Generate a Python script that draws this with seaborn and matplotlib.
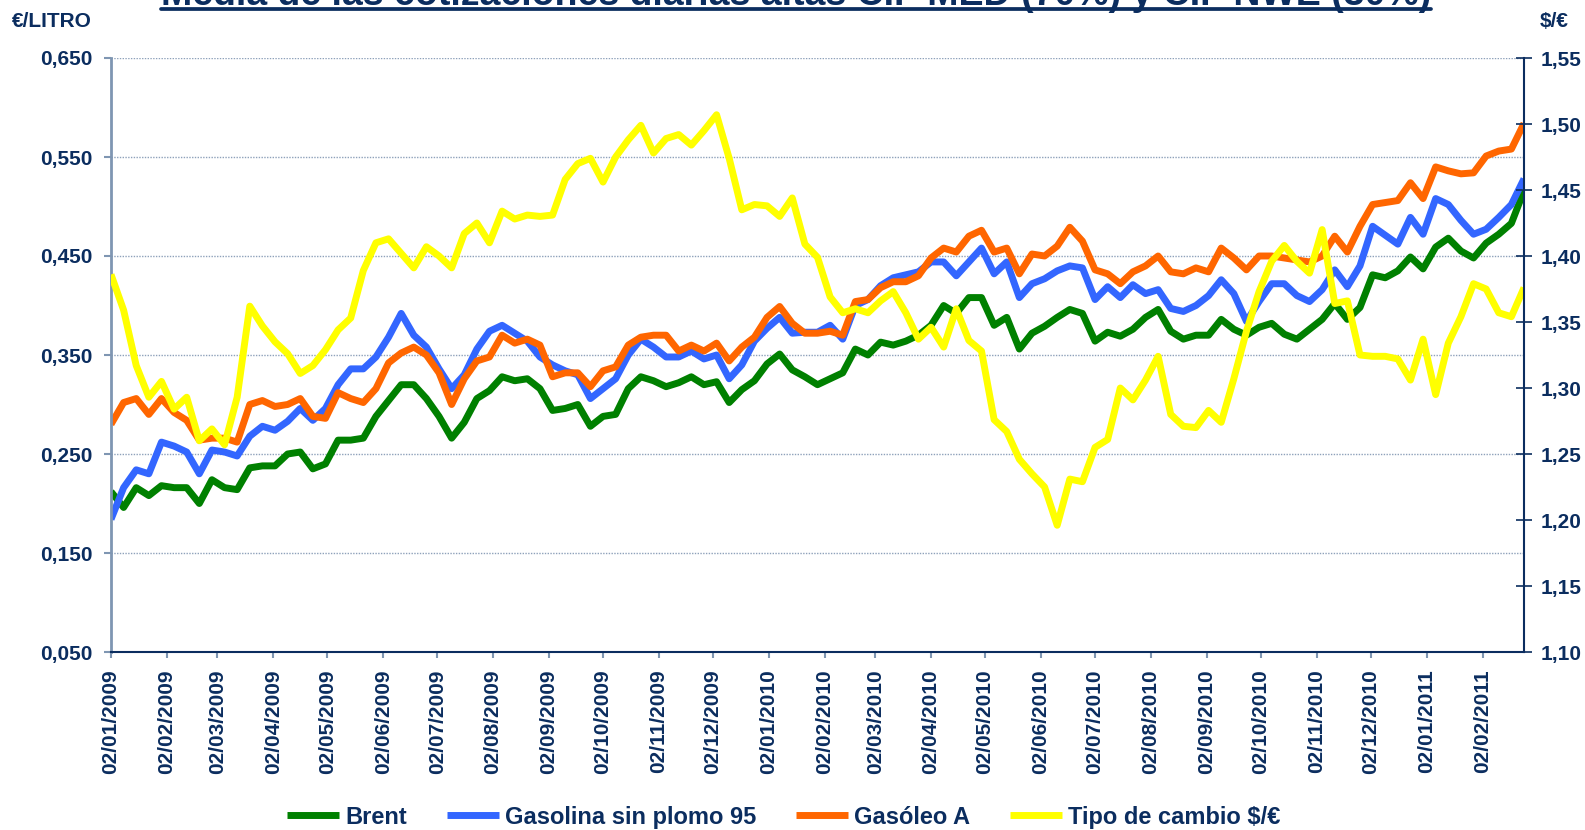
import matplotlib.dates as mdates
import matplotlib.pyplot as plt
import pandas as pd
import seaborn as sns
from matplotlib.lines import Line2D
from matplotlib.ticker import FuncFormatter

# Fechas (una muestra por semana)
fechas = pd.date_range("2009-01-02", periods=113, freq="7D")

# €/litro
brent = [0.212, 0.196, 0.216, 0.208, 0.218, 0.216, 0.216, 0.200, 0.224, 0.216,
         0.214, 0.236, 0.238, 0.238, 0.250, 0.252, 0.235, 0.240, 0.264, 0.264,
         0.266, 0.288, 0.304, 0.320, 0.320, 0.306, 0.288, 0.266, 0.282, 0.306,
         0.314, 0.328, 0.324, 0.326, 0.316, 0.294, 0.296, 0.300, 0.278, 0.288,
         0.290, 0.316, 0.328, 0.324, 0.318, 0.322, 0.328, 0.320, 0.323, 0.302,
         0.315, 0.324, 0.341, 0.351, 0.335, 0.328, 0.320, 0.326, 0.332, 0.356,
         0.350, 0.363, 0.360, 0.364, 0.370, 0.380, 0.400, 0.392, 0.408, 0.408,
         0.380, 0.388, 0.356, 0.372, 0.379, 0.388, 0.396, 0.392, 0.364, 0.373,
         0.369, 0.376, 0.388, 0.396, 0.374, 0.366, 0.370, 0.370, 0.386, 0.376,
         0.370, 0.378, 0.382, 0.371, 0.366, 0.376, 0.386, 0.402, 0.386, 0.398,
         0.431, 0.428, 0.435, 0.449, 0.437, 0.459, 0.468, 0.455, 0.448, 0.463,
         0.472, 0.483, 0.516]
gasolina = [0.184, 0.216, 0.234, 0.230, 0.262, 0.258, 0.252, 0.230, 0.254, 0.252,
            0.248, 0.268, 0.278, 0.274, 0.283, 0.296, 0.284, 0.296, 0.320, 0.336,
            0.336, 0.348, 0.368, 0.392, 0.370, 0.358, 0.336, 0.316, 0.330, 0.356,
            0.374, 0.380, 0.372, 0.364, 0.348, 0.340, 0.334, 0.330, 0.306, 0.316,
            0.326, 0.350, 0.366, 0.358, 0.348, 0.348, 0.354, 0.346, 0.350, 0.326,
            0.340, 0.364, 0.377, 0.388, 0.372, 0.373, 0.373, 0.380, 0.366, 0.400,
            0.406, 0.420, 0.428, 0.431, 0.434, 0.444, 0.444, 0.430, 0.444, 0.458,
            0.432, 0.444, 0.408, 0.422, 0.427, 0.435, 0.440, 0.438, 0.406, 0.419,
            0.408, 0.421, 0.412, 0.416, 0.397, 0.394, 0.400, 0.410, 0.426, 0.412,
            0.384, 0.404, 0.422, 0.422, 0.410, 0.404, 0.416, 0.436, 0.419, 0.440,
            0.480, 0.471, 0.462, 0.489, 0.472, 0.508, 0.502, 0.486, 0.472, 0.477,
            0.489, 0.502, 0.528]
gasoleo = [0.280, 0.302, 0.306, 0.290, 0.306, 0.292, 0.284, 0.264, 0.266, 0.266,
           0.262, 0.300, 0.304, 0.298, 0.300, 0.306, 0.288, 0.286, 0.312, 0.306,
           0.302, 0.316, 0.342, 0.352, 0.358, 0.350, 0.332, 0.300, 0.326, 0.344,
           0.348, 0.370, 0.362, 0.366, 0.360, 0.328, 0.332, 0.332, 0.318, 0.334,
           0.338, 0.360, 0.368, 0.370, 0.370, 0.354, 0.360, 0.354, 0.362, 0.344,
           0.358, 0.368, 0.388, 0.399, 0.382, 0.372, 0.372, 0.374, 0.370, 0.404,
           0.406, 0.418, 0.424, 0.424, 0.430, 0.448, 0.458, 0.454, 0.470, 0.476,
           0.454, 0.458, 0.432, 0.452, 0.450, 0.460, 0.479, 0.465, 0.436, 0.432,
           0.422, 0.434, 0.440, 0.450, 0.434, 0.432, 0.438, 0.434, 0.458, 0.448,
           0.436, 0.450, 0.450, 0.448, 0.446, 0.444, 0.450, 0.470, 0.454, 0.480,
           0.502, 0.504, 0.506, 0.524, 0.508, 0.540, 0.536, 0.533, 0.534, 0.551,
           0.556, 0.558, 0.584]
# $/€
tipo_cambio = [1.386, 1.359, 1.317, 1.293, 1.305, 1.284, 1.293, 1.260, 1.269, 1.257,
               1.293, 1.362, 1.347, 1.335, 1.326, 1.311, 1.317, 1.329, 1.344, 1.353,
               1.389, 1.410, 1.413, 1.402, 1.391, 1.407, 1.400, 1.391, 1.417, 1.425,
               1.410, 1.434, 1.428, 1.431, 1.430, 1.431, 1.458, 1.470, 1.474, 1.456,
               1.475, 1.488, 1.499, 1.478, 1.489, 1.492, 1.484, 1.495, 1.507, 1.474,
               1.435, 1.439, 1.438, 1.430, 1.444, 1.409, 1.399, 1.369, 1.357, 1.360,
               1.357, 1.366, 1.373, 1.357, 1.337, 1.346, 1.331, 1.360, 1.336, 1.328,
               1.276, 1.267, 1.246, 1.235, 1.225, 1.196, 1.231, 1.229, 1.255, 1.261,
               1.300, 1.291, 1.306, 1.324, 1.280, 1.271, 1.270, 1.283, 1.274, 1.307,
               1.343, 1.373, 1.396, 1.408, 1.396, 1.387, 1.420, 1.364, 1.366, 1.325,
               1.324, 1.324, 1.322, 1.306, 1.337, 1.295, 1.334, 1.354, 1.379, 1.375,
               1.357, 1.354, 1.376]

ticks_izq = [0.05, 0.15, 0.25, 0.35, 0.45, 0.55, 0.65]
ticks_der = [1.10, 1.15, 1.20, 1.25, 1.30, 1.35, 1.40, 1.45, 1.50, 1.55]
titulo = "Media de las cotizaciones diarias altas CIF MED (70%) y CIF NWE (30%)"

azul = "#0B2D5F"
gris = "#7F96B2"

sns.set_theme(style="white")
plt.rcParams["font.family"] = ["Liberation Sans", "DejaVu Sans"]
plt.rcParams["font.weight"] = "bold"

W, H = 1585, 830
fig = plt.figure(figsize=(W / 100, H / 100), dpi=100)
ax = fig.add_axes([111 / W, 1 - 652 / H, (1524 - 111) / W, (652 - 58) / H])
ax2 = ax.twinx()

estilo = dict(linewidth=5, solid_joinstyle="round", solid_capstyle="butt")
sns.lineplot(x=fechas, y=brent, ax=ax, color="#008000", label="Brent", **estilo)
sns.lineplot(x=fechas, y=gasolina, ax=ax, color="#3366FF", label="Gasolina sin plomo 95", **estilo)
sns.lineplot(x=fechas, y=gasoleo, ax=ax, color="#FF6600", label="Gasóleo A", **estilo)
sns.lineplot(x=fechas, y=tipo_cambio, ax=ax2, color="#FFFF00", label="Tipo de cambio $/€", **estilo)

for a in (ax, ax2):
    if a.get_legend() is not None:
        a.get_legend().remove()
    a.set_xlabel("")
    a.set_ylabel("")

ax.set_xlim(fechas[0], fechas[-1])
ax.set_ylim(0.05, 0.65)
ax.set_yticks(ticks_izq)
ax.yaxis.set_major_formatter(FuncFormatter(lambda v, p: f"{v:.3f}".replace(".", ",")))
ax2.set_ylim(1.10, 1.55)
ax2.set_yticks(ticks_der)
ax2.yaxis.set_major_formatter(FuncFormatter(lambda v, p: f"{v:.2f}".replace(".", ",")))

ax.xaxis.set_major_locator(mdates.MonthLocator(bymonthday=2))
ax.xaxis.set_major_formatter(mdates.DateFormatter("%d/%m/%Y"))

ax.grid(False)
ax.yaxis.grid(True, linestyle=(0, (1, 1)), color="#8EA1BA", linewidth=1.0)
ax2.grid(False)

for s in ("top", "right"):
    ax.spines[s].set_visible(False)
for s in ("top", "left", "bottom"):
    ax2.spines[s].set_visible(False)
ax.spines["left"].set_color(gris)
ax.spines["left"].set_linewidth(2)
ax.spines["bottom"].set_color(azul)
ax.spines["bottom"].set_linewidth(1.5)
ax2.spines["right"].set_color(azul)
ax2.spines["right"].set_linewidth(1.5)

ax.tick_params(axis="y", left=True, direction="out", length=5, width=1.5, color=gris,
               pad=8, labelsize=15, labelcolor=azul)
ax.tick_params(axis="x", bottom=True, direction="out", length=4.5, width=1.5, color=gris,
               pad=8, labelsize=15, labelcolor=azul, labelrotation=90)
ax2.tick_params(axis="y", right=True, direction="inout", length=11, width=1.2, color=azul,
                pad=6.5, labelsize=15, labelcolor=azul)

# Unidades de los ejes
fig.text(12 / W, 1 - 27 / H, "€/LITRO", fontsize=15, color=azul, va="baseline")
fig.text(1540 / W, 1 - 27 / H, "$/€", fontsize=15, color=azul, va="baseline")

# Titulo (cortado arriba, subrayado)
t = fig.text(796 / W, 1 - 5 / H, titulo, fontsize=27, color=azul, ha="center", va="baseline")
fig.canvas.draw()
bb = t.get_window_extent(renderer=fig.canvas.get_renderer())
fig.add_artist(Line2D([bb.x0 / W, bb.x1 / W], [1 - 9.2 / H, 1 - 9.2 / H],
                      transform=fig.transFigure, color=azul, linewidth=2.7))

# Leyenda
h1, l1 = ax.get_legend_handles_labels()
h2, l2 = ax2.get_legend_handles_labels()
fig.legend(h1 + h2, l1 + l2, loc="center", bbox_to_anchor=(784 / W, 1 - 817 / H),
           ncol=4, frameon=False, fontsize=17, labelcolor=azul, handlelength=2.2,
           handletextpad=0.25, columnspacing=1.7, borderpad=0)

fig.savefig("out.png", dpi=100)
